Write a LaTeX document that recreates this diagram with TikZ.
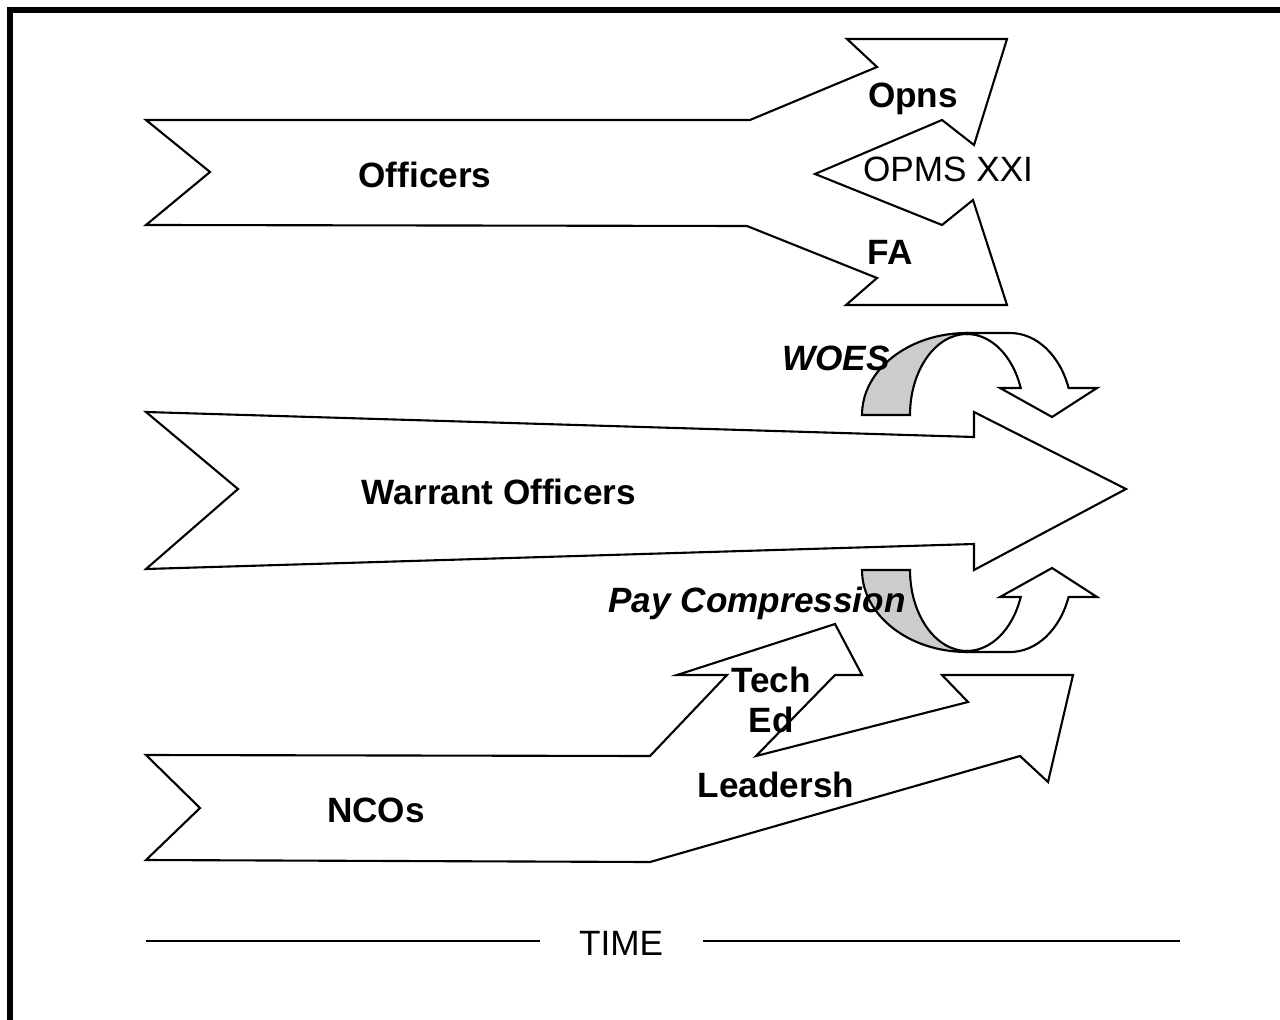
\documentclass[tikz,border=0pt]{standalone}
\usepackage{fontspec}
\setmainfont{Liberation Sans}
\tikzset{
	banner/.style={draw, line width=0.6pt, fill=white, line join=miter},
	band/.style={draw, line width=0.6pt, fill=black!20},
	lbl/.style={inner sep=0pt, anchor=base, font=\fontsize{10}{12}\selectfont\bfseries},
	slanted lbl/.style={lbl, font=\fontsize{10}{12}\selectfont\bfseries\itshape},
	plain lbl/.style={inner sep=0pt, anchor=base, font=\fontsize{10}{12}\selectfont},
}
% curved band arrow, #2 is the centre of its arcs
\def\bendarrow[#1](#2){%
	\begin{scope}[shift={(#2)},#1]
		\draw[band] (-105,0) arc[start angle=180, end angle=270, x radius=105, y radius=82] -- (0,-81)
			arc[start angle=270, end angle=180, x radius=57, y radius=81] -- cycle;
		\draw[banner] (0,-82) -- (43,-82) arc[start angle=270, end angle=340.8, x radius=62, y radius=82]
			-- (130,-27) -- (85,2) -- (33,-27) -- (53.7,-27)
			arc[start angle=340.5, end angle=270, x radius=57, y radius=81] -- cycle;
	\end{scope}}

\begin{document}
\begin{tikzpicture}[x=0.01cm, y=-0.01cm]
			%%%%% START %%%%%
			\useasboundingbox (0,0) rectangle (1280,1019);
			\draw[line width=1.6pt] (10,10) rectangle (1300,1040);
			
			% officers
			\draw[banner] (146,120) -- (750,120) -- (877,67) -- (847,39) -- (1007,39) -- (974,145) -- (942,120)
				-- (815,174) -- (942,225) -- (973,200) -- (1007,305) -- (846,305) -- (877,278) -- (747,226)
				-- (146,225) -- (210,172) -- cycle;
			
			% warrant officers
			\draw[banner] (146,412) -- (974,437) -- (974,412) -- (1126,489) -- (974,570) -- (974,544)
				-- (146,569) -- (238,489) -- cycle;
			
			% ncos
			\draw[banner] (146,755) -- (650,756) -- (727,675) -- (677,675) -- (835,624) -- (862,675) -- (835,675)
				-- (756,756) -- (968,702) -- (942,675) -- (1073,675) -- (1048,782) -- (1020,756) -- (650,862)
				-- (146,860) -- (200,808) -- cycle;
			
			\bendarrow[](967,415);
			\bendarrow[yscale=-1](967,570);
			
			\node[lbl] (opns) at (913,108) {Opns};
			\node[plain lbl] (opms) at (948,182) {OPMS XXI};
			\node[lbl] (fa) at (890,265) {FA};
			\node[lbl] (officers) at (425,188) {Officers};
			\node[slanted lbl] (woes) at (836,370) {WOES};
			\node[lbl] (warrant) at (499,504) {Warrant Officers};
			\node[slanted lbl] (pay) at (757,612) {Pay Compression};
			\node[lbl] (tech) at (771,692) {Tech};
			\node[lbl] (ed) at (771,732) {Ed};
			\node[lbl] (lead) at (776,797) {Leadersh};
			\node[lbl] (ncos) at (376,822) {NCOs};
			
			\node[plain lbl] (time) at (621,955) {TIME};
			\draw[line width=0.6pt] (146,941) -- (540,941);
			\draw[line width=0.6pt] (703,941) -- (1180,941);
			%%%%% END %%%%%
\end{tikzpicture}
\end{document}
